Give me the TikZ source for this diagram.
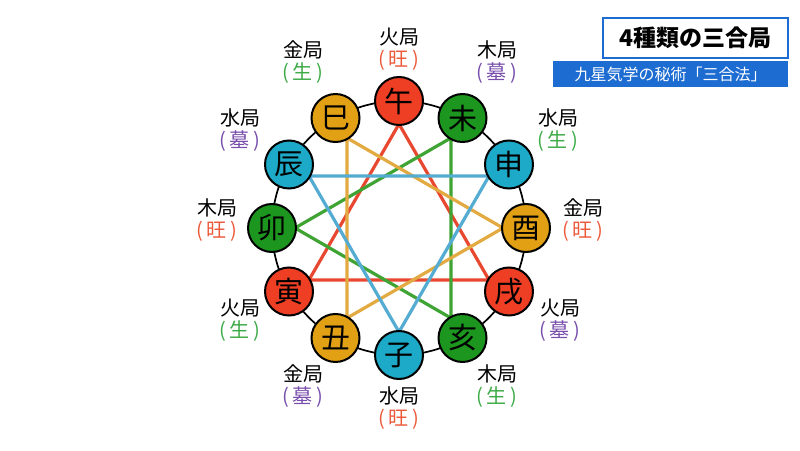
\documentclass[tikz,border=0pt]{standalone}
\usepackage{fontspec}
\setmainfont{Noto Sans CJK JP}
\definecolor{cred}{RGB}{238,62,36}
\definecolor{cgreen}{RGB}{28,150,30}
\definecolor{ccyan}{RGB}{28,170,200}
\definecolor{cgold}{RGB}{226,160,20}
\definecolor{lred}{RGB}{232,72,48}
\definecolor{lgreen}{RGB}{64,164,52}
\definecolor{lcyan}{RGB}{84,172,210}
\definecolor{lgold}{RGB}{226,170,64}
\definecolor{kwang}{RGB}{236,90,58}
\definecolor{ksheng}{RGB}{60,170,70}
\definecolor{kmu}{RGB}{120,78,172}
\definecolor{cblue}{RGB}{28,108,210}
\tikzset{
  branch/.style={circle,draw=black,line width=2pt,minimum size=48pt,inner sep=0pt,font=\fontsize{29}{29}\selectfont},
  lab/.style={align=center,inner sep=0pt,font=\fontsize{20}{22}\selectfont},
  ring/.style={draw=black,line width=1.7pt},
  tri/.style={line width=3.2pt,line join=miter},
}
\newcommand{\wang}{\textcolor{kwang}{(\,旺\,)}}
\newcommand{\sheng}{\textcolor{ksheng}{(\,生\,)}}
\newcommand{\mubox}{\textcolor{kmu}{(\,墓\,)}}
\begin{document}
\begin{tikzpicture}[x=1pt,y=1pt]
\useasboundingbox (0,0) rectangle (800,450);
\fill[white] (0,0) rectangle (800,450);
% title
\node[draw=cblue,line width=2pt,fill=white,minimum width=185pt,minimum height=40pt,inner sep=0pt,font=\fontsize{23}{23}\selectfont\bfseries] (title) at (695.5,412) {4種類の三合局};
\node[fill=cblue,text=white,minimum width=235pt,minimum height=26pt,inner sep=0pt,font=\fontsize{16}{16}\selectfont] (sub) at (670.5,376) {九星気学の秘術「三合法」};
\begin{scope}[shift={(399,222)}]
\draw[ring] (0,0) circle[radius=127];
\foreach \n/\a in {wu/90,wei/60,shen/30,you/0,xu/-30,hai/-60,zi/-90,chou/-120,yin/-150,mao/180,chen/150,si/120}{
  \coordinate (t\n) at (\a:104);
}
\draw[tri,lred] (twu) -- (txu) -- (tyin) -- cycle;
\draw[tri,lgreen] (twei) -- (thai) -- (tmao) -- cycle;
\draw[tri,lgold] (tsi) -- (tyou) -- (tchou) -- cycle;
\draw[tri,lcyan] (tshen) -- (tzi) -- (tchen) -- cycle;
\node[branch,fill=cred] (wu) at (90:127) {午};
\node[branch,fill=cgreen] (wei) at (60:127) {未};
\node[branch,fill=ccyan] (shen) at (30:127) {申};
\node[branch,fill=cgold] (you) at (0:127) {酉};
\node[branch,fill=cred] (xu) at (-30:127) {戌};
\node[branch,fill=cgreen] (hai) at (-60:127) {亥};
\node[branch,fill=ccyan] (zi) at (-90:127) {子};
\node[branch,fill=cgold] (chou) at (-120:127) {丑};
\node[branch,fill=cred] (yin) at (-150:127) {寅};
\node[branch,fill=cgreen] (mao) at (180:127) {卯};
\node[branch,fill=ccyan] (chen) at (150:127) {辰};
\node[branch,fill=cgold] (si) at (120:127) {巳};
\end{scope}
% labels
\node[lab] (lwu) at (399,401) {火局\\\wang};
\node[lab] (lwei) at (497,388) {木局\\\mubox};
\node[lab] (lshen) at (558,320) {水局\\\sheng};
\node[lab] (lyou) at (583,230) {金局\\\wang};
\node[lab] (lxu) at (560,130) {火局\\\mubox};
\node[lab] (lhai) at (497,64) {木局\\\sheng};
\node[lab] (lzi) at (399,42) {水局\\\wang};
\node[lab] (lchou) at (303,64) {金局\\\mubox};
\node[lab] (lyin) at (240,130) {火局\\\sheng};
\node[lab] (lmao) at (217,230) {木局\\\wang};
\node[lab] (lchen) at (240,320) {水局\\\mubox};
\node[lab] (lsi) at (303,388) {金局\\\sheng};
\end{tikzpicture}
\end{document}
